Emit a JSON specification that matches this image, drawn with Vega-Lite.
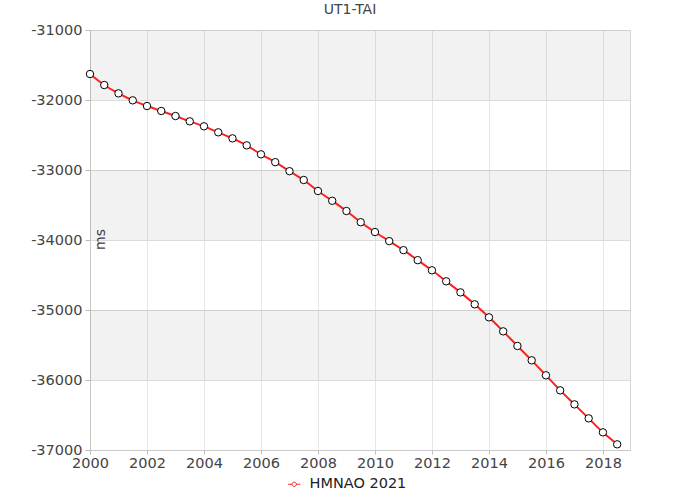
{
  "$schema": "https://vega.github.io/schema/vega-lite/v6.json",
  "width": 540,
  "height": 420,
  "autosize": {"type": "none"},
  "padding": {"left": 90, "top": 30, "right": 70, "bottom": 50},
  "background": "white",
  "config": {
    "font": "DejaVu Sans",
    "view": {"stroke": "#d4d4d4"},
    "axis": {"labelFont": "DejaVu Sans", "titleFont": "DejaVu Sans"}
  },
  "title": {
    "text": "UT1-TAI",
    "fontSize": 14,
    "fontWeight": "normal",
    "color": "#444",
    "font": "DejaVu Sans",
    "dx": -10,
    "offset": 5,
    "anchor": "middle"
  },
  "datasets": {
    "bands": [
      {"lo": -32000, "hi": -31000},
      {"lo": -34000, "hi": -33000},
      {"lo": -36000, "hi": -35000}
    ],
    "series": [
      {"year": 2000.0, "ms": -31629, "src": "HMNAO 2021"},
      {"year": 2000.5, "ms": -31786, "src": "HMNAO 2021"},
      {"year": 2001.0, "ms": -31905, "src": "HMNAO 2021"},
      {"year": 2001.5, "ms": -32005, "src": "HMNAO 2021"},
      {"year": 2002.0, "ms": -32086, "src": "HMNAO 2021"},
      {"year": 2002.5, "ms": -32157, "src": "HMNAO 2021"},
      {"year": 2003.0, "ms": -32229, "src": "HMNAO 2021"},
      {"year": 2003.5, "ms": -32305, "src": "HMNAO 2021"},
      {"year": 2004.0, "ms": -32376, "src": "HMNAO 2021"},
      {"year": 2004.5, "ms": -32462, "src": "HMNAO 2021"},
      {"year": 2005.0, "ms": -32548, "src": "HMNAO 2021"},
      {"year": 2005.5, "ms": -32648, "src": "HMNAO 2021"},
      {"year": 2006.0, "ms": -32776, "src": "HMNAO 2021"},
      {"year": 2006.5, "ms": -32888, "src": "HMNAO 2021"},
      {"year": 2007.0, "ms": -33017, "src": "HMNAO 2021"},
      {"year": 2007.5, "ms": -33143, "src": "HMNAO 2021"},
      {"year": 2008.0, "ms": -33300, "src": "HMNAO 2021"},
      {"year": 2008.5, "ms": -33440, "src": "HMNAO 2021"},
      {"year": 2009.0, "ms": -33586, "src": "HMNAO 2021"},
      {"year": 2009.5, "ms": -33746, "src": "HMNAO 2021"},
      {"year": 2010.0, "ms": -33886, "src": "HMNAO 2021"},
      {"year": 2010.5, "ms": -34016, "src": "HMNAO 2021"},
      {"year": 2011.0, "ms": -34145, "src": "HMNAO 2021"},
      {"year": 2011.5, "ms": -34288, "src": "HMNAO 2021"},
      {"year": 2012.0, "ms": -34433, "src": "HMNAO 2021"},
      {"year": 2012.5, "ms": -34590, "src": "HMNAO 2021"},
      {"year": 2013.0, "ms": -34748, "src": "HMNAO 2021"},
      {"year": 2013.5, "ms": -34919, "src": "HMNAO 2021"},
      {"year": 2014.0, "ms": -35105, "src": "HMNAO 2021"},
      {"year": 2014.5, "ms": -35305, "src": "HMNAO 2021"},
      {"year": 2015.0, "ms": -35514, "src": "HMNAO 2021"},
      {"year": 2015.5, "ms": -35719, "src": "HMNAO 2021"},
      {"year": 2016.0, "ms": -35933, "src": "HMNAO 2021"},
      {"year": 2016.5, "ms": -36148, "src": "HMNAO 2021"},
      {"year": 2017.0, "ms": -36348, "src": "HMNAO 2021"},
      {"year": 2017.5, "ms": -36548, "src": "HMNAO 2021"},
      {"year": 2018.0, "ms": -36748, "src": "HMNAO 2021"},
      {"year": 2018.5, "ms": -36919, "src": "HMNAO 2021"}
    ]
  },
  "layer": [
    {
      "data": {"name": "bands"},
      "mark": {"type": "rect", "color": "black", "opacity": 0.05},
      "encoding": {
        "y": {
          "field": "lo", "type": "quantitative",
          "scale": {"domain": [-37000, -31000], "nice": false, "zero": false},
          "axis": {
            "title": "ms",
            "values": [-37000, -36000, -35000, -34000, -33000, -32000, -31000],
            "labelExpr": "toString(datum.value)",
            "labelFontSize": 14.5,
            "labelColor": "#444",
            "labelPadding": 3,
            "tickSize": 5,
            "tickColor": "#bbb",
            "domainColor": "#c8c8c8",
            "gridColor": "#dcdcdc",
            "titleAngle": -90,
            "titleX": 14,
            "titleY": 209,
            "titleAlign": "center",
            "titleBaseline": "alphabetic",
            "titleFontSize": 14,
            "titleFontWeight": "normal",
            "titleColor": "#444"
          }
        },
        "y2": {"field": "hi"}
      }
    },
    {
      "data": {"name": "series"},
      "mark": {"type": "line", "strokeWidth": 2, "interpolate": "monotone"},
      "encoding": {
        "x": {
          "field": "year", "type": "quantitative",
          "scale": {"domain": [2000, 2018.95], "nice": false, "zero": false},
          "axis": {
            "title": null,
            "values": [2000,2001,2002,2003,2004,2005,2006,2007,2008,2009,2010,2011,2012,2013,2014,2015,2016,2017,2018],
            "format": "d",
            "labelExpr": "datum.value % 2 === 0 ? datum.label : ''",
            "labelFontSize": 14.5,
            "labelColor": "#444",
            "labelPadding": 2,
            "labelFlush": false,
            "labelOverlap": false,
            "tickSize": 4,
            "tickColor": "#bbb",
            "domainColor": "#c8c8c8",
            "gridColor": "#e6e6e6",
            "gridOpacity": {"condition": {"test": "datum.value % 2 === 1", "value": 0}, "value": 1}
          }
        },
        "y": {"field": "ms", "type": "quantitative"},
        "color": {
          "field": "src", "type": "nominal",
          "scale": {"range": ["#ff2020"]},
          "legend": {
            "title": null,
            "orient": "none",
            "legendX": 197,
            "legendY": 447,
            "direction": "horizontal",
            "labelFontSize": 14.5,
            "labelColor": "#222",
            "labelFont": "DejaVu Sans",
            "symbolType": "M-1,0H-0.35M0.35,0H1M-0.35,0A0.35,0.35,0,1,1,0.35,0A0.35,0.35,0,1,1,-0.35,0",
            "symbolSize": 150,
            "symbolStrokeWidth": 1,
            "labelOffset": 8
          }
        }
      }
    },
    {
      "data": {"name": "series"},
      "mark": {"type": "point", "filled": true, "fill": "white", "stroke": "black", "strokeWidth": 1, "size": 55, "opacity": 1},
      "encoding": {
        "x": {"field": "year", "type": "quantitative"},
        "y": {"field": "ms", "type": "quantitative"}
      }
    }
  ]
}
